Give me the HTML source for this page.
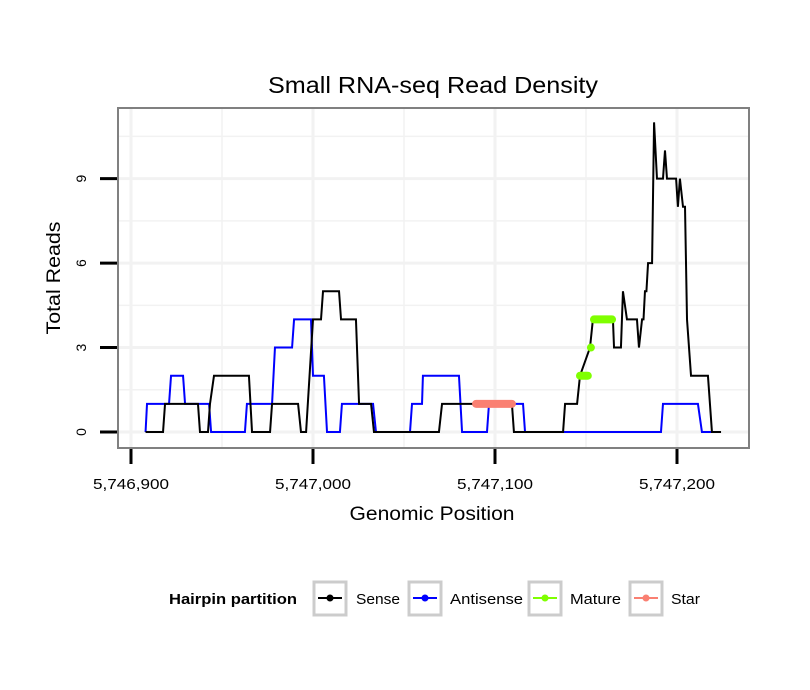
<!DOCTYPE html>
<html><head><meta charset="utf-8"><style>
body{margin:0;background:#fff}
svg{display:block;font-family:"Liberation Sans",sans-serif}
</style></head><body>
<svg id="chart" width="810" height="690">
<rect width="810" height="690" fill="#fff"/>
<text x="433" y="93" text-anchor="middle" font-size="23" textLength="330" lengthAdjust="spacingAndGlyphs">Small RNA-seq Read Density</text>
<g id="grid"></g>
<rect x="118" y="108" width="631" height="340" fill="none" stroke="#808080" stroke-width="2"/>
<g id="marks"></g>
<g id="axes"></g>
<text x="432" y="520" text-anchor="middle" font-size="19" textLength="165" lengthAdjust="spacingAndGlyphs">Genomic Position</text>
<text transform="translate(60,278) rotate(-90)" text-anchor="middle" font-size="19" textLength="113" lengthAdjust="spacingAndGlyphs">Total Reads</text>
<g>
<text x="169" y="604" font-size="15" font-weight="bold" textLength="128" lengthAdjust="spacingAndGlyphs">Hairpin partition</text>
<g><rect x="314" y="582" width="32" height="33" fill="#fff" stroke="#ccc" stroke-width="3"/><line x1="318" y1="598" x2="342" y2="598" stroke="#000" stroke-width="2"/><circle cx="330" cy="598" r="3.5" fill="#000"/><text x="356" y="604" font-size="15" textLength="44" lengthAdjust="spacingAndGlyphs">Sense</text></g>
<g><rect x="409" y="582" width="32" height="33" fill="#fff" stroke="#ccc" stroke-width="3"/><line x1="413" y1="598" x2="437" y2="598" stroke="#00f" stroke-width="2"/><circle cx="425" cy="598" r="3.5" fill="#00f"/><text x="450" y="604" font-size="15" textLength="73" lengthAdjust="spacingAndGlyphs">Antisense</text></g>
<g><rect x="529" y="582" width="32" height="33" fill="#fff" stroke="#ccc" stroke-width="3"/><line x1="533" y1="598" x2="557" y2="598" stroke="#7fff00" stroke-width="2"/><circle cx="545" cy="598" r="3.5" fill="#7fff00"/><text x="570" y="604" font-size="15" textLength="51" lengthAdjust="spacingAndGlyphs">Mature</text></g>
<g><rect x="630" y="582" width="32" height="33" fill="#fff" stroke="#ccc" stroke-width="3"/><line x1="634" y1="598" x2="658" y2="598" stroke="#fa8072" stroke-width="2"/><circle cx="646" cy="598" r="3.5" fill="#fa8072"/><text x="671" y="604" font-size="15" textLength="29" lengthAdjust="spacingAndGlyphs">Star</text></g>
</g>
</svg>
<script>
const BASE = 5746900;
const xTicks = [5746900, 5747000, 5747100, 5747200];
const xTickLabels = ["5,746,900", "5,747,000", "5,747,100", "5,747,200"];
const yTicks = [0, 3, 6, 9];
const senseX = [8,17.6,18.7,36.8,37.9,42.3,43.4,45.6,64.8,66.5,76.4,77.5,91.8,93.4,96.2,100,104.4,105.5,114.3,115.4,123.6,125.3,131.9,133.5,169.2,170.9,209.3,210.4,237.4,238.5,245.1,246.7,252.2,253.8,264.8,265.4,269.2,270.3,272.5,278,279.1,280.8,281.6,282.4,283.2,284.1,286.3,287.4,289,292.3,293.4,294.5,299.5,300.5,301.6,303.3,304.4,305.5,307.7,317,319.2,324.2];
const senseY = [0,0,1,1,0,0,1,2,2,0,0,1,1,0,0,4,4,5,5,4,4,1,1,0,0,1,1,0,0,1,1,2,3,4,4,3,3,5,4,4,3,4,4,5,5,6,6,11,9,9,10,9,9,8,9,8,8,4,2,2,0,0];
const antiX = [8,8.8,20.9,22,28.6,29.7,42.9,44,62.6,63.7,77.5,79.1,88.5,89.6,98.9,100,106,107.7,114.8,115.9,133,134.6,153.3,154.4,159.9,160.4,180.2,181.9,195.6,196.7,215.4,216.5,291.2,292.3,311.5,313.7,319.2];
const antiY = [0,1,1,2,2,1,1,0,0,1,1,3,3,4,4,2,2,0,0,1,1,0,0,1,1,2,2,0,0,1,1,0,0,1,1,0,0];
const matureStart = [246.7, 252.7, 254.4];
const matureEnd = [251, 252.7, 264.3];
const matureY = [2, 3, 4];
const starStart = [189.6];
const starEnd = [209.3];
const starY = [1];

const NS = "http://www.w3.org/2000/svg";
function xs(v){ return 131 + (v - 5746900) * 1.82; }
function ys(v){ return 432 - v * 28.15; }
function mk(tag, attrs, parent){ const e=document.createElementNS(NS,tag); for(const k in attrs) e.setAttribute(k,attrs[k]); parent.appendChild(e); return e; }
const grid=document.getElementById('grid'), marks=document.getElementById('marks'), axes=document.getElementById('axes');
[5746950,5747050,5747150].forEach(v=>{ const l=mk('line',{x1:xs(v),x2:xs(v),y1:109,y2:447,stroke:'#f2f2f2','stroke-width':1.5},grid);

 });
xTicks.forEach(v=>{ const l=mk('line',{x1:xs(v),x2:xs(v),y1:109,y2:447,stroke:'#f2f2f2','stroke-width':3},grid);

 });
[1.5,4.5,7.5,10.5].forEach(v=>{ const l=mk('line',{x1:119,x2:748,y1:ys(v),y2:ys(v),stroke:'#f2f2f2','stroke-width':1.5},grid);

 });
yTicks.forEach(v=>{ const l=mk('line',{x1:119,x2:748,y1:ys(v),y2:ys(v),stroke:'#f2f2f2','stroke-width':3},grid);

 });
function poly(X,Y,color,name){ const p=mk('polyline',{points:X.map((x,i)=>xs(BASE+x)+','+ys(Y[i])).join(' '),fill:'none',stroke:color,'stroke-width':2,'stroke-linejoin':'miter'},marks);

 }
poly(antiX,antiY,'#0000ff','antisense-line');
poly(senseX,senseY,'#000000','sense-line');
function segs(S,E,Y,color,name){ S.forEach((s,i)=>{ const l=mk('line',{x1:xs(BASE+s),x2:xs(BASE+E[i]),y1:ys(Y[i]),y2:ys(Y[i]),stroke:color,'stroke-width':8,'stroke-linecap':'round'},marks);

 }); }
segs(matureStart,matureEnd,matureY,'#7fff00','mature-segment');
segs(starStart,starEnd,starY,'#fa8072','star-segment');
xTicks.forEach((v,i)=>{ const t=mk('line',{x1:xs(v),x2:xs(v),y1:449,y2:464,stroke:'#000','stroke-width':3},axes);


const tx=mk('text',{x:xs(v),y:489,'text-anchor':'middle','font-size':15,textLength:76,lengthAdjust:'spacingAndGlyphs'},axes); tx.textContent=xTickLabels[i];

 });
yTicks.forEach(v=>{ const t=mk('line',{x1:100,x2:117,y1:ys(v),y2:ys(v),stroke:'#000','stroke-width':3},axes);


const tx=mk('text',{transform:'translate(86,'+ys(v)+') rotate(-90)','text-anchor':'middle','font-size':14},axes); tx.textContent=String(v);

 });
</script>
</body></html>
